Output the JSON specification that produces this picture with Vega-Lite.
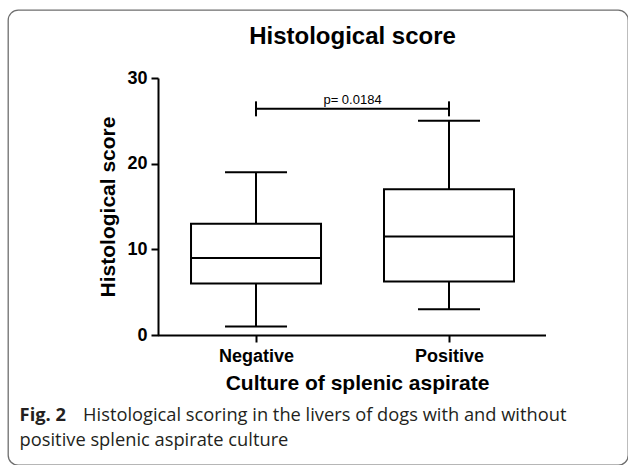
{
  "$schema": "https://vega.github.io/schema/vega-lite/v6.json",
  "width": 620,
  "height": 455,
  "padding": {"left": 8, "top": 10, "right": 0, "bottom": 0},
  "background": "white",
  "config": {
    "view": {"stroke": "#6e6e6e", "strokeWidth": 1.3, "cornerRadius": 10},
    "font": "Liberation Sans",
    "axis": {
      "grid": false,
      "domainColor": "black",
      "domainWidth": 2,
      "tickColor": "black",
      "tickWidth": 2,
      "tickSize": 7,
      "labelColor": "black",
      "titleColor": "black",
      "labelFont": "Liberation Sans",
      "titleFont": "Liberation Sans",
      "labelFontWeight": "bold",
      "titleFontWeight": "bold",
      "labelFontSize": 18,
      "titleFontSize": 21
    }
  },
  "datasets": {
    "boxes": [
      {"group": 1, "culture": "Negative", "min": 1, "q1": 6, "median": 9, "q3": 13, "max": 19},
      {"group": 2, "culture": "Positive", "min": 3, "q1": 6.25, "median": 11.5, "q3": 17, "max": 25}
    ],
    "bracket": [
      {"from": 1, "to": 2, "mid": 1.5, "y": 26.4, "label": "p= 0.0184"}
    ],
    "heading": [
      {"x": 1.5, "y": 34, "text": "Histological score"}
    ],
    "captionBold": [
      {"x": -0.225, "y": -10.02, "text": "Fig. 2"}
    ],
    "captionText": [
      {"x": 0.104, "y": -10.02, "text": "Histological scoring in the livers of dogs with and without"},
      {"x": -0.225, "y": -12.97, "text": "positive splenic aspirate culture"}
    ]
  },
  "layer": [
    {
      "data": {"name": "boxes"},
      "mark": {"type": "rule", "color": "black", "strokeWidth": 2},
      "encoding": {
        "x": {
          "field": "group",
          "type": "quantitative",
          "scale": {"domain": [0.49, 2.5], "range": [149.6, 537.5], "nice": false, "zero": false, "padding": 0},
          "axis": {
            "title": "Culture of splenic aspirate",
            "values": [1, 2],
            "labelExpr": "datum.value === 1 ? 'Negative' : 'Positive'",
            "labelFlush": false,
            "offset": -130,
            "labelPadding": 5,
            "titlePadding": 7,
            "titleX": 349
          }
        },
        "y": {
          "field": "min",
          "type": "quantitative",
          "scale": {"domain": [0, 30], "range": [325, 68], "nice": false, "zero": true, "padding": 0},
          "axis": {
            "title": "Histological score",
            "values": [0, 10, 20, 30],
            "offset": -150,
            "labelPadding": 4,
            "titlePadding": 8
          }
        },
        "y2": {"field": "max"}
      }
    },
    {
      "data": {"name": "boxes"},
      "mark": {"type": "bar", "size": 130, "fill": "white", "stroke": "black", "strokeWidth": 2, "opacity": 1},
      "encoding": {
        "x": {"field": "group", "type": "quantitative"},
        "y": {"field": "q1", "type": "quantitative"},
        "y2": {"field": "q3"}
      }
    },
    {
      "data": {"name": "boxes"},
      "mark": {"type": "tick", "orient": "horizontal", "size": 130, "thickness": 2, "color": "black", "opacity": 1},
      "encoding": {
        "x": {"field": "group", "type": "quantitative"},
        "y": {"field": "median", "type": "quantitative"}
      }
    },
    {
      "data": {"name": "boxes"},
      "mark": {"type": "tick", "orient": "horizontal", "size": 62, "thickness": 2, "color": "black", "opacity": 1},
      "encoding": {
        "x": {"field": "group", "type": "quantitative"},
        "y": {"field": "min", "type": "quantitative"}
      }
    },
    {
      "data": {"name": "boxes"},
      "mark": {"type": "tick", "orient": "horizontal", "size": 62, "thickness": 2, "color": "black", "opacity": 1},
      "encoding": {
        "x": {"field": "group", "type": "quantitative"},
        "y": {"field": "max", "type": "quantitative"}
      }
    },
    {
      "data": {"name": "bracket"},
      "mark": {"type": "rule", "color": "black", "strokeWidth": 2},
      "encoding": {
        "x": {"field": "from", "type": "quantitative"},
        "x2": {"field": "to"},
        "y": {"field": "y", "type": "quantitative"}
      }
    },
    {
      "data": {"name": "bracket"},
      "mark": {"type": "tick", "orient": "vertical", "size": 15, "thickness": 2, "color": "black", "opacity": 1},
      "encoding": {
        "x": {"field": "from", "type": "quantitative"},
        "y": {"field": "y", "type": "quantitative"}
      }
    },
    {
      "data": {"name": "bracket"},
      "mark": {"type": "tick", "orient": "vertical", "size": 15, "thickness": 2, "color": "black", "opacity": 1},
      "encoding": {
        "x": {"field": "to", "type": "quantitative"},
        "y": {"field": "y", "type": "quantitative"}
      }
    },
    {
      "data": {"name": "bracket"},
      "mark": {"type": "text", "font": "Liberation Sans", "fontSize": 13, "color": "black", "align": "center", "baseline": "alphabetic", "dy": -5},
      "encoding": {
        "x": {"field": "mid", "type": "quantitative"},
        "y": {"field": "y", "type": "quantitative"},
        "text": {"field": "label"}
      }
    },
    {
      "data": {"name": "heading"},
      "mark": {"type": "text", "font": "Liberation Sans", "fontSize": 24, "fontWeight": "bold", "color": "black", "align": "center", "baseline": "alphabetic"},
      "encoding": {
        "x": {"field": "x", "type": "quantitative"},
        "y": {"field": "y", "type": "quantitative"},
        "text": {"field": "text"}
      }
    },
    {
      "data": {"name": "captionBold"},
      "mark": {"type": "text", "font": "Open Sans", "fontSize": 18.3, "fontWeight": "bold", "color": "#231f20", "align": "left", "baseline": "alphabetic"},
      "encoding": {
        "x": {"field": "x", "type": "quantitative"},
        "y": {"field": "y", "type": "quantitative"},
        "text": {"field": "text"}
      }
    },
    {
      "data": {"name": "captionText"},
      "mark": {"type": "text", "font": "Open Sans", "fontSize": 18.3, "color": "#231f20", "align": "left", "baseline": "alphabetic"},
      "encoding": {
        "x": {"field": "x", "type": "quantitative"},
        "y": {"field": "y", "type": "quantitative"},
        "text": {"field": "text"}
      }
    }
  ]
}
